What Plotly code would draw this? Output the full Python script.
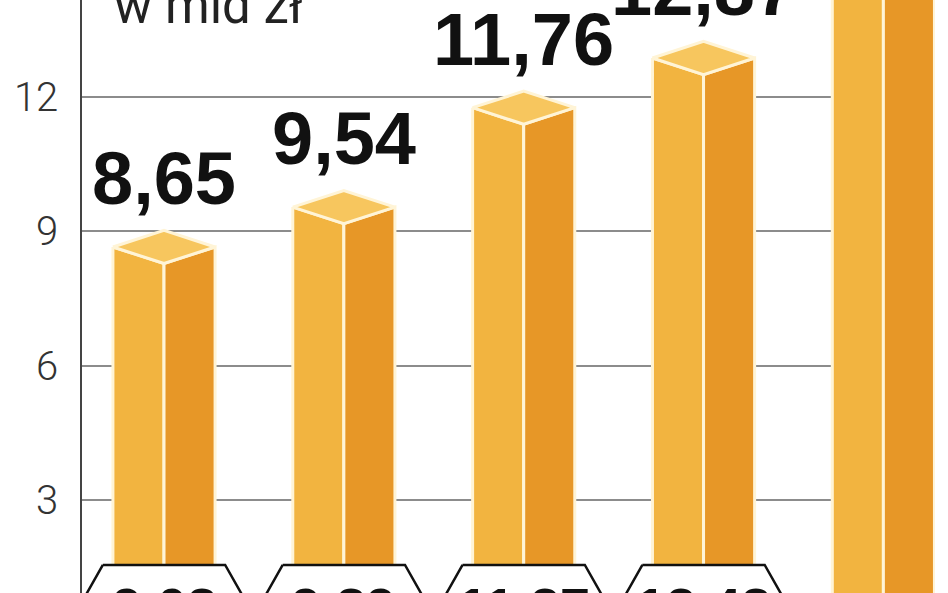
import plotly.graph_objects as go

# ---- data ----
categories = ["A", "B", "C", "D", "E"]
values = [8.65, 9.54, 11.76, 12.87, 15.60]
value_labels = ["8,65", "9,54", "11,76", "12,87", "15,60"]
bottom_labels = ["9,08", "9,89", "11,27", "12,48"]
y_ticks = [3, 6, 9, 12]
unit_label = "w mld zł"

# ---- style / geometry (in axis units) ----
HALF_W = 0.284     # half width of the pseudo-3D bar
DEPTH = 0.37       # half height of the top rhombus
BASE = -1.0        # bars run down out of view
LEFT_C = "#F2B440"
RIGHT_C = "#E79727"
TOP_C = "#F7C65E"
EDGE_C = "#FFF4D6"

xs = list(range(len(categories)))

left_x, left_y, right_x, right_y, top_x, top_y = [], [], [], [], [], []
for c, v in zip(xs, values):
    left_x += [c - HALF_W, c, c, c - HALF_W, c - HALF_W, None]
    left_y += [v, v - DEPTH, BASE, BASE, v, None]
    right_x += [c, c + HALF_W, c + HALF_W, c, c, None]
    right_y += [v - DEPTH, v, BASE, BASE, v - DEPTH, None]
    top_x += [c - HALF_W, c, c + HALF_W, c, c - HALF_W, None]
    top_y += [v, v + DEPTH, v, v - DEPTH, v, None]

fig = go.Figure()
for fx, fy, col in [(left_x, left_y, LEFT_C), (right_x, right_y, RIGHT_C), (top_x, top_y, TOP_C)]:
    fig.add_trace(go.Scatter(x=fx, y=fy, mode="lines", fill="toself", fillcolor=col,
                             line=dict(color=EDGE_C, width=3), hoverinfo="skip", showlegend=False))

# hexagonal value boxes at the bottom
hx, hy = [], []
for c, _ in zip(xs, bottom_labels):
    hx += [c - 0.34, c + 0.34, c + 0.53, c + 0.34, c - 0.34, c - 0.53, c - 0.34, None]
    hy += [1.55, 1.55, 0.2, -1.15, -1.15, 0.2, 1.55, None]
fig.add_trace(go.Scatter(x=hx, y=hy, mode="lines", fill="toself", fillcolor="white",
                         line=dict(color="#111111", width=2.5), hoverinfo="skip", showlegend=False))

annotations = []
for c, v, t in zip(xs, values, value_labels):
    annotations.append(dict(x=c, y=v + 0.55, xref="x", yref="y", text=t, showarrow=False,
                            xanchor="center", yanchor="bottom",
                            font=dict(family="Liberation Sans", size=74, color="#111111", weight="bold")))
for c, t in zip(xs, bottom_labels):
    annotations.append(dict(x=c, y=1.33, xref="x", yref="y", text=t, showarrow=False,
                            xanchor="center", yanchor="top",
                            font=dict(family="Liberation Sans", size=54, color="#111111", weight="bold")))
annotations.append(dict(x=(112 - 82) / (935 - 82), y=1 - 37 / 593, xref="paper", yref="paper",
                        text=unit_label, showarrow=False, xanchor="left", yanchor="bottom",
                        font=dict(family="Roboto", size=51, color="#222222")))

fig.update_layout(
    width=948, height=593,
    margin=dict(l=82, r=13, t=0, b=0),
    paper_bgcolor="white", plot_bgcolor="white",
    annotations=annotations,
    xaxis=dict(range=[-0.456, 4.287], showgrid=False, zeroline=False, showticklabels=False,
               showline=False, fixedrange=True),
    yaxis=dict(range=[0.922, 14.165], tickvals=y_ticks, ticktext=[str(t) for t in y_ticks],
               showgrid=True, gridcolor="#8c8c8c", gridwidth=2, zeroline=False,
               showline=True, linecolor="#444444", linewidth=1.5,
               ticks="", ticklabelstandoff=14,
               tickfont=dict(family="Roboto", size=40, color="#333333", weight=300)),
)

fig.write_html("out.html", config={"displayModeBar": False},
               post_script="document.body.style.margin='0';document.body.style.overflow='hidden';")
